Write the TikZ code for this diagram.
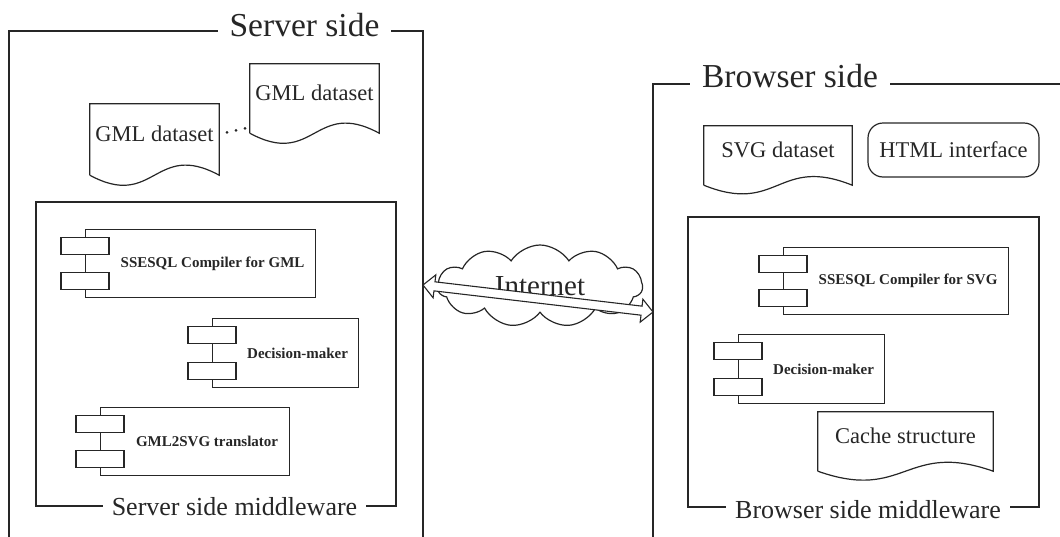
\documentclass[tikz,border=0pt]{standalone}
\usepackage{fontspec}
\setmainfont{Liberation Serif}
\usetikzlibrary{calc,shapes.symbols,shapes.arrows}
\definecolor{ink}{HTML}{262626}

\tikzset{
  frame/.style={draw=ink, line width=1.8pt},
  mwframe/.style={draw=ink, line width=1.3pt},
  sidetitle/.style={font=\fontsize{33.5}{36}\selectfont, text=ink, fill=white,
    inner xsep=12pt, inner ysep=2pt, anchor=base},
  mwtitle/.style={font=\fontsize{26}{28}\selectfont, text=ink, fill=white,
    inner xsep=9pt, inner ysep=2pt, anchor=base},
  compbox/.style={draw=ink, line width=1.2pt, anchor=north west, inner sep=0pt},
  port/.style={draw=ink, fill=white, line width=1.2pt, minimum width=48pt,
    minimum height=17pt, inner sep=0pt},
  complabel/.style={font=\fontsize{15}{17}\selectfont\bfseries, text=ink},
  docnode/.style={inner sep=0pt, text depth=11pt, text=ink,
    font=\fontsize{22.5}{24}\selectfont},
  docline/.style={draw=ink, line width=1.2pt},
  roundbox/.style={draw=ink, line width=1.2pt, rounded corners=15pt, inner sep=0pt,
    text=ink, font=\fontsize{22.5}{24}\selectfont},
  netcloud/.style={cloud, cloud puffs=11, cloud puff arc=115, cloud ignores aspect,
    draw=ink, line width=1.2pt, inner sep=0pt, text=ink,
    font=\fontsize{29}{31}\selectfont},
  linkarrow/.style={double arrow, draw=ink, fill=white, line width=1.1pt,
    inner sep=4pt, double arrow head extend=7pt, minimum width=22pt},
}

% component symbol: body box, two port rectangles, bold label
\newcommand\umlcomp[6]{%
  \node[compbox, minimum width=#4pt, minimum height=#5pt] (#1) at (#2,#3) {};
  \node[port, anchor=north] (#1-a) at ($(#1.north west)+(0,8)$) {};
  \node[port, anchor=south] (#1-b) at ($(#1.south west)+(0,-8)$) {};
  \node[complabel] (#1-t) at ($(#1.center)+(12,0)$) {#6};
}

% document outline with a wavy lower edge around a named node
\newcommand\docwave[2]{%
  \draw[docline] (#1.south west) -- (#1.north west) -- (#1.north east)
    -- (#1.south east) .. controls ($(#1.south)+(0,-#2)$) and ($(#1.south)+(0,#2)$)
    .. (#1.south west);
}

\begin{document}
\begin{tikzpicture}[x=1pt, y=-1pt]
\useasboundingbox (0,0) rectangle (1060,536);
\clip (0,0) rectangle (1060,536);

% ---------------- server side ----------------
\draw[frame] (9,545) -- (9,31) -- (423,31) -- (423,545);
\node[sidetitle] (stitle) at (304.5,36) {Server side};

\node[docnode, minimum width=129pt, minimum height=71pt] (g1) at (154.5,139.5) {GML dataset};
\docwave{g1}{35}
\node[docnode, minimum width=129pt, minimum height=69pt] (g2) at (314.5,98.5) {GML dataset};
\docwave{g2}{35}
\fill[ink] (227,132.3) circle (1.5) (236,130.3) circle (1.5) (245,128.3) circle (1.5);

\draw[mwframe] (36,202) rectangle (396,506);
\node[mwtitle] (smw) at (234.5,515) {Server side middleware};

\umlcomp{c1}{85}{229}{230}{68}{SSESQL Compiler for GML}
\umlcomp{c2}{212}{318}{146}{69}{Decision-maker}
\umlcomp{c3}{100}{407}{189}{68}{GML2SVG translator}

% ---------------- browser side ----------------
\draw[frame] (653,545) -- (653,84) -- (1075,84);
\node[sidetitle] (btitle) at (790,87.3) {Browser side};

\node[docnode, minimum width=148pt, minimum height=59pt] (sv) at (778,155.5) {SVG dataset};
\docwave{sv}{30}
\node[roundbox, minimum width=171pt, minimum height=54pt] (ht) at (953.5,150) {HTML interface};

\draw[mwframe] (688,217) rectangle (1039,507);
\node[mwtitle] (bmw) at (868,518.3) {Browser side middleware};

\umlcomp{c4}{783}{247}{225}{67}{SSESQL Compiler for SVG}
\umlcomp{c5}{738}{334}{146}{69}{Decision-maker}

\node[docnode, minimum width=175pt, minimum height=59pt] (cs) at (905.5,441.5) {Cache structure};
\docwave{cs}{31}

% ---------------- network link ----------------
\node[netcloud, minimum width=205pt, minimum height=82pt] (net) at (540,286) {Internet};
\coordinate (srvport) at (423,285);
\coordinate (brwport) at (653,312);
\node[linkarrow, minimum height=231.6pt, rotate=-6.7] (link) at ($(srvport)!0.5!(brwport)$) {};

\end{tikzpicture}
\end{document}
